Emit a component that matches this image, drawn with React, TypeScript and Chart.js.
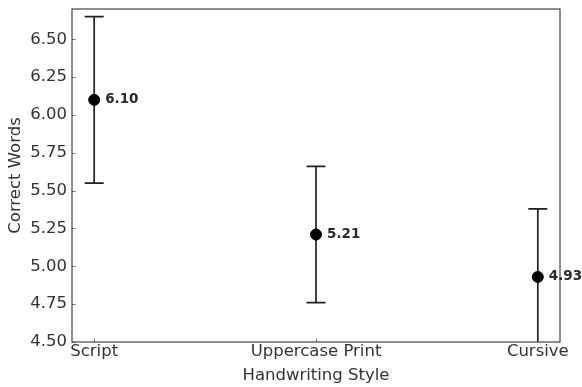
import React, { useEffect, useRef } from "react";
import { Chart, registerables } from "chart.js";

Chart.register(...registerables);

const categories: string[] = ["Script", "Uppercase Print", "Cursive"];
const means: number[] = [6.1, 5.21, 4.93];
const errors: number[] = [0.55, 0.45, 0.45];
const yTicks: number[] = [4.5, 4.75, 5.0, 5.25, 5.5, 5.75, 6.0, 6.25, 6.5];
const yMin = 4.5;
const yMax = 6.7;
const xMin = -0.1;
const xMax = 2.1;

const FONT = "'DejaVu Sans', sans-serif";

const decorPlugin = {
  id: "decor",
  beforeDatasetsDraw(chart: any) {
    const { ctx, chartArea, scales } = chart;
    const xs = scales.x;
    const ys = scales.y;
    ctx.save();
    ctx.beginPath();
    ctx.rect(chartArea.left, chartArea.top, chartArea.right - chartArea.left, chartArea.bottom - chartArea.top);
    ctx.clip();
    ctx.strokeStyle = "#222";
    ctx.lineWidth = 1.7;
    const cap = 9.5;
    for (let i = 0; i < means.length; i++) {
      const x = xs.getPixelForValue(i);
      const yTop = ys.getPixelForValue(means[i] + errors[i]);
      const yBot = ys.getPixelForValue(means[i] - errors[i]);
      ctx.beginPath();
      ctx.moveTo(x, yTop);
      ctx.lineTo(x, yBot);
      ctx.moveTo(x - cap, yTop);
      ctx.lineTo(x + cap, yTop);
      ctx.moveTo(x - cap, yBot);
      ctx.lineTo(x + cap, yBot);
      ctx.stroke();
    }
    ctx.restore();
  },
  afterDatasetsDraw(chart: any) {
    const { ctx, chartArea, scales } = chart;
    const xs = scales.x;
    const ys = scales.y;
    ctx.save();
    // inward ticks
    ctx.strokeStyle = "#777";
    ctx.lineWidth = 1;
    const tl = 3.5;
    ctx.beginPath();
    for (const v of yTicks) {
      const y = Math.round(ys.getPixelForValue(v)) + 0.5;
      ctx.moveTo(chartArea.left, y);
      ctx.lineTo(chartArea.left + tl, y);
    }
    for (let i = 0; i < categories.length; i++) {
      const x = Math.round(xs.getPixelForValue(i)) + 0.5;
      ctx.moveTo(x, chartArea.bottom);
      ctx.lineTo(x, chartArea.bottom - tl);
    }
    ctx.stroke();
    // spines
    ctx.strokeStyle = "#444";
    ctx.lineWidth = 1.2;
    ctx.strokeRect(chartArea.left, chartArea.top, chartArea.right - chartArea.left, chartArea.bottom - chartArea.top);
    // value labels
    ctx.fillStyle = "#2a2a2a";
    ctx.font = `bold 13.5px ${FONT}`;
    ctx.textAlign = "left";
    ctx.textBaseline = "middle";
    for (let i = 0; i < means.length; i++) {
      const x = xs.getPixelForValue(i);
      const y = ys.getPixelForValue(means[i]);
      ctx.fillText(means[i].toFixed(2), x + 11, y);
    }
    ctx.restore();
  },
};

export default function App() {
  const ref = useRef<HTMLCanvasElement | null>(null);
  useEffect(() => {
    if (!ref.current) return;
    const chart = new Chart(ref.current, {
      type: "scatter",
      data: {
        datasets: [
          {
            data: means.map((m, i) => ({ x: i, y: m })),
            backgroundColor: "#000",
            borderColor: "#000",
            pointRadius: 5.5,
            pointHoverRadius: 5.5,
          },
        ],
      },
      options: {
        responsive: false,
        animation: false,
        layout: { autoPadding: false, padding: { top: 9, right: 22, left: 0, bottom: 0 } },
        plugins: { legend: { display: false }, tooltip: { enabled: false } },
        scales: {
          x: {
            type: "linear",
            min: xMin,
            max: xMax,
            afterBuildTicks: (s: any) => {
              s.ticks = categories.map((_, i) => ({ value: i }));
            },
            afterFit: (s: any) => {
              s.height = 45;
              s.paddingLeft = 0;
              s.paddingRight = 0;
              s.paddingTop = 0;
              s.paddingBottom = 0;
            },
            ticks: {
              callback: (v: any) => categories[v] ?? "",
              color: "#333",
              font: { family: FONT, size: 16.5 },
              padding: 0,
              maxRotation: 0,
              autoSkip: false,
            },
            grid: { display: false, drawTicks: false },
            border: { display: false },
            title: {
              display: true,
              text: "Handwriting Style",
              color: "#333",
              font: { family: FONT, size: 16.5 },
              padding: { top: 0, bottom: 1 },
            },
          },
          y: {
            type: "linear",
            min: yMin,
            max: yMax,
            afterBuildTicks: (s: any) => {
              s.ticks = yTicks.map((v) => ({ value: v }));
            },
            afterFit: (s: any) => {
              s.width = 72;
              s.paddingLeft = 0;
              s.paddingRight = 0;
              s.paddingTop = 0;
              s.paddingBottom = 0;
            },
            ticks: {
              callback: (v: any) => Number(v).toFixed(2),
              color: "#333",
              font: { family: FONT, size: 16.5 },
              padding: 5,
              autoSkip: false,
            },
            grid: { display: false, drawTicks: false },
            border: { display: false },
            title: {
              display: true,
              text: "Correct Words",
              color: "#333",
              font: { family: FONT, size: 16.5 },
              padding: { top: 6, bottom: 0 },
            },
          },
        },
      },
      plugins: [decorPlugin],
    } as any);
    return () => chart.destroy();
  }, []);
  return (
    <div style={{ position: "fixed", left: 0, top: 0, width: 582, height: 387, background: "#fff" }}>
      <canvas ref={ref} width={582} height={387} />
    </div>
  );
}
